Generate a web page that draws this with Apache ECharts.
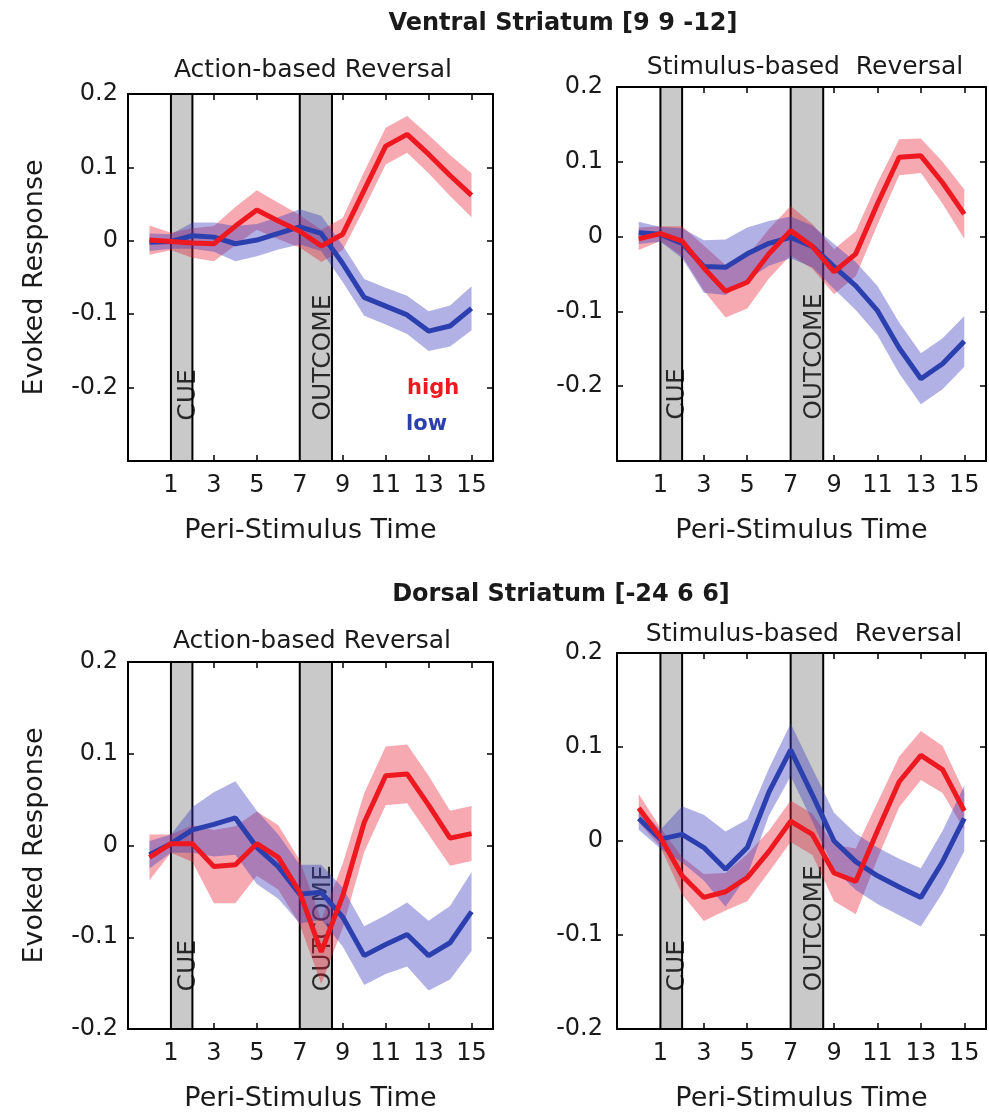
<!DOCTYPE html>
<html>
<head>
<meta charset="utf-8">
<script src="https://cdn.jsdelivr.net/npm/echarts@6/dist/echarts.min.js"></script>
<style>
html,body{margin:0;padding:0;background:#fff;}
#chart{width:989px;height:1116px;}
</style>
</head>
<body>
<div id="chart"></div>
<script>
// ---------------- DATA ----------------
const time = [0, 1, 2, 3, 4, 5, 6, 7, 8, 9, 10, 11, 12, 13, 14, 15];
const xTickLabels = ['1', '3', '5', '7', '9', '11', '13', '15'];
const eventNames = ['CUE', 'OUTCOME'];
const cueWindow = [1, 2];
const outcomeWindow = [7, 8.5];
const legendNames = ['high', 'low'];
const regionTitles = ['Ventral Striatum [9 9 -12]', 'Dorsal Striatum [-24 6 6]'];
const panelTitles = ['Action-based Reversal', 'Stimulus-based  Reversal', 'Action-based Reversal', 'Stimulus-based  Reversal'];

// Ventral striatum, action-based
const vaHigh    = [0.001, -0.001, -0.003, -0.004, 0.020, 0.042, 0.027, 0.013, -0.007, 0.009, 0.069, 0.129, 0.145, 0.118, 0.089, 0.062];
const vaHighSem = [0.020, 0.012, 0.020, 0.024, 0.026, 0.027, 0.025, 0.022, 0.022, 0.022, 0.025, 0.025, 0.025, 0.026, 0.028, 0.030];
const vaLow     = [-0.002, -0.001, 0.007, 0.005, -0.004, 0.001, 0.010, 0.019, 0.010, -0.031, -0.077, -0.089, -0.101, -0.123, -0.116, -0.092];
const vaLowSem  = [0.012, 0.010, 0.018, 0.020, 0.024, 0.022, 0.022, 0.024, 0.024, 0.025, 0.025, 0.025, 0.026, 0.027, 0.028, 0.030];
// Ventral striatum, stimulus-based
const vsHigh    = [-0.003, 0.004, -0.006, -0.042, -0.073, -0.061, -0.023, 0.008, -0.013, -0.047, -0.023, 0.044, 0.106, 0.108, 0.072, 0.030];
const vsHighSem = [0.015, 0.010, 0.020, 0.030, 0.035, 0.035, 0.033, 0.033, 0.030, 0.030, 0.030, 0.028, 0.024, 0.023, 0.028, 0.033];
const vsLow     = [0.005, 0.003, -0.009, -0.040, -0.041, -0.023, -0.009, -0.001, -0.013, -0.040, -0.066, -0.099, -0.149, -0.190, -0.170, -0.140];
const vsLowSem  = [0.015, 0.010, 0.020, 0.035, 0.037, 0.035, 0.030, 0.028, 0.028, 0.030, 0.032, 0.033, 0.034, 0.034, 0.034, 0.034];
// Dorsal striatum, action-based
const daHigh    = [-0.013, 0.002, 0.002, -0.023, -0.021, 0.002, -0.013, -0.051, -0.116, -0.055, 0.025, 0.076, 0.078, 0.044, 0.008, 0.013];
const daHighSem = [0.025, 0.010, 0.020, 0.040, 0.042, 0.035, 0.035, 0.035, 0.035, 0.035, 0.032, 0.032, 0.032, 0.032, 0.030, 0.030];
const daLow     = [-0.010, 0.002, 0.017, 0.023, 0.030, -0.002, -0.023, -0.053, -0.051, -0.078, -0.120, -0.108, -0.097, -0.120, -0.106, -0.072];
const daLowSem  = [0.015, 0.010, 0.025, 0.035, 0.040, 0.040, 0.035, 0.032, 0.030, 0.032, 0.032, 0.032, 0.035, 0.038, 0.040, 0.043];
// Dorsal striatum, stimulus-based
const dsHigh    = [0.035, 0.004, -0.037, -0.060, -0.054, -0.039, -0.011, 0.021, 0.007, -0.034, -0.043, 0.011, 0.063, 0.091, 0.076, 0.032];
const dsHighSem = [0.015, 0.010, 0.020, 0.025, 0.020, 0.025, 0.022, 0.022, 0.022, 0.030, 0.035, 0.030, 0.027, 0.026, 0.025, 0.020];
const dsLow     = [0.024, 0.002, 0.007, -0.007, -0.030, -0.007, 0.052, 0.097, 0.049, 0.000, -0.022, -0.037, -0.049, -0.060, -0.022, 0.024];
const dsLowSem  = [0.012, 0.010, 0.030, 0.035, 0.040, 0.030, 0.025, 0.028, 0.028, 0.030, 0.030, 0.030, 0.030, 0.031, 0.033, 0.035];

// ---------------- LAYOUT / STYLE ----------------
const FONT = 'DejaVu Sans';
const TXT = '#1a1a1a';
const RED = '#ee1820', BLUE = '#2b3fae';
const RED_BAND = 'rgba(232,30,50,0.38)', BLUE_BAND = 'rgba(60,60,190,0.40)';

const panels = [
  { grid: {left: 128, top: 94, width: 365, height: 367}, yMin: -0.3, labelFloor: -0.25, eventY: -0.245, yLabelMargin: 10, xNameGap: 56, yName: true,
    high: vaHigh, highSem: vaHighSem, low: vaLow, lowSem: vaLowSem },
  { grid: {left: 617, top: 87, width: 375, height: 374}, yMin: -0.3, labelFloor: -0.25, eventY: -0.245, yLabelMargin: 14, xNameGap: 56, yName: false,
    high: vsHigh, highSem: vsHighSem, low: vsLow, lowSem: vsLowSem },
  { grid: {left: 128, top: 662, width: 365, height: 367}, yMin: -0.2, labelFloor: -0.25, eventY: -0.159, yLabelMargin: 10, xNameGap: 56, yName: true,
    high: daHigh, highSem: daHighSem, low: daLow, lowSem: daLowSem },
  { grid: {left: 617, top: 653, width: 375, height: 376}, yMin: -0.2, labelFloor: -0.25, eventY: -0.16, yLabelMargin: 14, xNameGap: 56, yName: false,
    high: dsHigh, highSem: dsHighSem, low: dsLow, lowSem: dsLowSem }
];

const grids = [], xAxes = [], yAxes = [], series = [];

function xFmt(v) {
  const r = Math.round(v);
  if (Math.abs(v - r) > 1e-6) return '';
  return xTickLabels.indexOf(String(r)) >= 0 ? String(r) : '';
}

panels.forEach((p, g) => {
  grids.push(Object.assign({containLabel: false}, p.grid));
  const axisLine = {show: true, onZero: false, lineStyle: {color: '#000', width: 2}};
  const tick = {show: true, inside: true, length: 6, lineStyle: {color: '#000', width: 1.5}};
  xAxes.push({
    type: 'value', gridIndex: g, position: 'bottom', min: -1, max: 16, interval: 2,
    axisLine, axisTick: tick, splitLine: {show: false},
    axisLabel: {show: true, margin: 13, color: TXT, fontFamily: FONT, fontSize: 24, formatter: xFmt},
    name: 'Peri-Stimulus Time', nameLocation: 'middle', nameGap: p.xNameGap,
    nameTextStyle: {color: TXT, fontFamily: FONT, fontSize: 27}
  });
  xAxes.push({
    type: 'value', gridIndex: g, position: 'top', min: -1, max: 16, interval: 2,
    axisLine, axisTick: tick, splitLine: {show: false}, axisLabel: {show: false}
  });
  yAxes.push({
    type: 'value', gridIndex: g, position: 'left', min: p.yMin, max: 0.2, interval: 0.1,
    axisLine, axisTick: tick, splitLine: {show: false},
    axisLabel: {show: true, margin: p.yLabelMargin, color: TXT, fontFamily: FONT, fontSize: 24,
      formatter: v => { const r = Math.round(v * 10) / 10; if (r < p.labelFloor) return ''; return r === 0 ? '0' : r.toFixed(1); }},
    name: p.yName ? 'Evoked Response' : '', nameLocation: 'middle', nameGap: 80,
    nameTextStyle: {color: TXT, fontFamily: FONT, fontSize: 27}
  });
  yAxes.push({
    type: 'value', gridIndex: g, position: 'right', min: p.yMin, max: 0.2, interval: 0.1,
    axisLine, axisTick: tick, splitLine: {show: false}, axisLabel: {show: false}
  });

  const xi = g * 2, yi = g * 2;

  // grey event windows
  series.push({
    type: 'line', xAxisIndex: xi, yAxisIndex: yi, data: [], z: 1, silent: true,
    markArea: {
      silent: true,
      itemStyle: {color: '#c9c9c9', borderColor: '#000', borderWidth: 2},
      data: [[{xAxis: cueWindow[0]}, {xAxis: cueWindow[1]}], [{xAxis: outcomeWindow[0]}, {xAxis: outcomeWindow[1]}]]
    }
  });
  // event labels
  series.push({
    type: 'scatter', xAxisIndex: xi, yAxisIndex: yi, z: 2, silent: true, symbolSize: 0,
    data: [
      {value: [cueWindow[0] + 0.8, p.eventY], name: eventNames[0]},
      {value: [outcomeWindow[0] + 1.1, p.eventY], name: eventNames[1]}
    ],
    label: {show: true, position: 'inside', rotate: 90, align: 'left', verticalAlign: 'middle',
      formatter: '{b}', color: '#000', fontFamily: FONT, fontSize: 25}
  });
  // SEM bands
  const band = (mean, sem, color, name) => ({
    type: 'custom', name, xAxisIndex: xi, yAxisIndex: yi, z: 3, silent: true, clip: true,
    data: time.map((t, i) => [t, mean[i] - sem[i], mean[i] + sem[i]]),
    encode: {x: 0, y: [1, 2]},
    renderItem: (params, api) => {
      if (params.dataIndex !== 0) return null;
      const up = time.map((t, i) => api.coord([t, mean[i] + sem[i]]));
      const lo = time.map((t, i) => api.coord([t, mean[i] - sem[i]])).reverse();
      return {type: 'polygon', shape: {points: up.concat(lo)}, style: {fill: color}};
    }
  });
  series.push(band(p.high, p.highSem, RED_BAND, 'highBand'));
  series.push(band(p.low, p.lowSem, BLUE_BAND, 'lowBand'));
  // mean lines
  const line = (mean, color, name, z) => ({
    type: 'line', name, xAxisIndex: xi, yAxisIndex: yi, z, silent: true,
    showSymbol: false, symbol: 'none', animation: false,
    lineStyle: {color, width: 5}, itemStyle: {color},
    data: time.map((t, i) => [t, mean[i]])
  });
  series.push(line(p.low, BLUE, legendNames[1], 4));
  series.push(line(p.high, RED, legendNames[0], 5));
});

const titleStyle = (size, weight) => ({color: TXT, fontFamily: FONT, fontSize: size, fontWeight: weight});
const option = {
  backgroundColor: '#fff',
  animation: false,
  title: [
    {text: regionTitles[0], left: 563, top: 12, textAlign: 'center', padding: 0, textStyle: titleStyle(24, 'bold')},
    {text: panelTitles[0], left: 313, top: 58, textAlign: 'center', padding: 0, textStyle: titleStyle(25, 'normal')},
    {text: panelTitles[1], left: 805, top: 55, textAlign: 'center', padding: 0, textStyle: titleStyle(25, 'normal')},
    {text: regionTitles[1], left: 561, top: 583, textAlign: 'center', padding: 0, textStyle: titleStyle(24, 'bold')},
    {text: panelTitles[2], left: 312, top: 629, textAlign: 'center', padding: 0, textStyle: titleStyle(25, 'normal')},
    {text: panelTitles[3], left: 804, top: 622, textAlign: 'center', padding: 0, textStyle: titleStyle(25, 'normal')}
  ],
  grid: grids,
  xAxis: xAxes,
  yAxis: yAxes,
  series,
  graphic: [
    {type: 'text', x: 407, y: 389, z: 10, style: {text: legendNames[0], fill: RED, font: 'bold 21px "DejaVu Sans"', verticalAlign: 'middle'}},
    {type: 'text', x: 406, y: 425, z: 10, style: {text: legendNames[1], fill: BLUE, font: 'bold 21px "DejaVu Sans"', verticalAlign: 'middle'}}
  ]
};

const chart = echarts.init(document.getElementById('chart'), null, {renderer: 'canvas'});
chart.setOption(option);
</script>
</body>
</html>
